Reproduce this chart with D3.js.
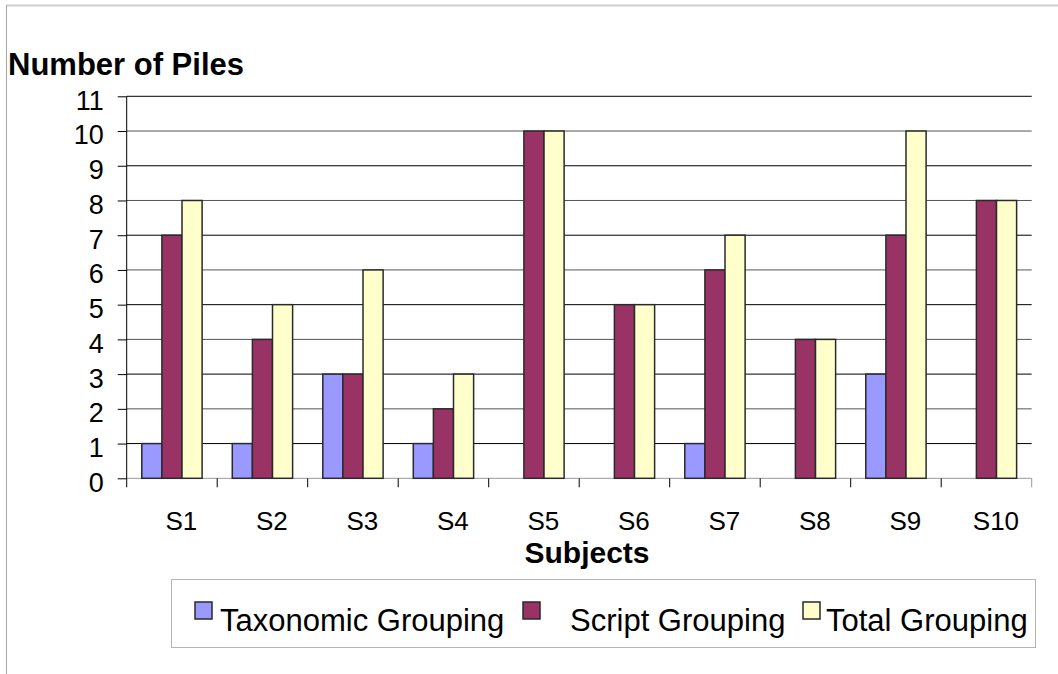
<!DOCTYPE html>
<html>
<head>
<meta charset="utf-8">
<script src="https://cdn.jsdelivr.net/npm/d3@7"></script>
<style>
  html, body { margin: 0; padding: 0; background: #fff; }
  svg { display: block; font-family: "Liberation Sans", Arial, Helvetica, sans-serif; }
</style>
</head>
<body>
<svg id="chart" width="1058" height="674"></svg>
<script>
// Piles sorted by each subject, per grouping type
const subjects = ["S1", "S2", "S3", "S4", "S5", "S6", "S7", "S8", "S9", "S10"];
const taxonomic = [1, 1, 3, 1, 0, 0, 1, 0, 3, 0];
const script = [7, 4, 3, 2, 10, 5, 6, 4, 7, 8];
const total = [8, 5, 6, 3, 10, 5, 7, 4, 10, 8];
const seriesNames = ["Taxonomic Grouping", "Script Grouping", "Total Grouping"];
const seriesColors = ["#9999FF", "#993366", "#FFFFCC"];
const yTicks = [0, 1, 2, 3, 4, 5, 6, 7, 8, 9, 10, 11];

const seriesValues = [taxonomic, script, total];
const rows = subjects.map((s, i) => ({
  subject: s,
  values: seriesNames.map((name, k) => ({ name, value: seriesValues[k][i], color: seriesColors[k] }))
}));

const svg = d3.select("#chart");

// outer frame edges
svg.append("line").attr("x1", 6).attr("x2", 1058).attr("y1", 5.5).attr("y2", 5.5)
  .attr("stroke", "#cfcfcf").attr("stroke-width", 2);
svg.append("line").attr("x1", 6.5).attr("x2", 6.5).attr("y1", 5).attr("y2", 674)
  .attr("stroke", "#a8a8a8").attr("stroke-width", 1);

const plot = { left: 126.7, right: 1031.7, top: 96.3, bottom: 478.3 };

const x = d3.scaleBand().domain(subjects).range([plot.left, plot.right]).padding(0);
const xs = d3.scaleBand().domain(seriesNames).range([0, x.bandwidth()])
  .paddingInner(0).paddingOuter(0.75);
const y = d3.scaleLinear().domain([0, 11]).range([plot.bottom, plot.top]);

// horizontal gridlines
svg.append("g").selectAll("line").data(yTicks).join("line")
  .attr("x1", plot.left).attr("x2", plot.right)
  .attr("y1", d => y(d)).attr("y2", d => y(d))
  .attr("stroke", d => d === 0 ? "#999" : (d % 2 === 0 ? "#555" : "#000")).attr("stroke-width", 1);

// y axis
const yAxis = svg.append("g").attr("transform", `translate(${plot.left},0)`)
  .call(d3.axisLeft(y).tickValues(yTicks).tickSize(9).tickPadding(14).tickFormat(d3.format("d")));
yAxis.select(".domain").remove();
yAxis.selectAll(".tick line").attr("stroke", "#000");
yAxis.selectAll(".tick text").attr("font-size", 27).attr("fill", "#000")
  .attr("font-family", "Liberation Sans, Arial, sans-serif").attr("dy", "0.48em");
svg.append("line").attr("x1", plot.left).attr("x2", plot.left)
  .attr("y1", plot.top).attr("y2", plot.bottom + 9).attr("stroke", "#000");

// x axis with category boundary ticks
const xAxis = svg.append("g").attr("transform", `translate(0,${plot.bottom})`);
xAxis.selectAll("line.cat").data(subjects.slice(1).concat(["end"])).join("line")
  .attr("class", "cat")
  .attr("x1", (d, i) => plot.left + (i + 1) * x.step())
  .attr("x2", (d, i) => plot.left + (i + 1) * x.step())
  .attr("y1", 0).attr("y2", 9).attr("stroke", (d, i) => i === 9 ? "#999" : "#000");
xAxis.selectAll("text").data(subjects).join("text")
  .attr("x", d => x(d) + x.bandwidth() / 2 + 9.5)
  .attr("y", 52)
  .attr("text-anchor", "middle").attr("font-size", 26).attr("fill", "#000")
  .text(d => d);

// bars
const groups = svg.append("g").selectAll("g").data(rows).join("g")
  .attr("transform", d => `translate(${x(d.subject)},0)`);
groups.selectAll("rect").data(d => d.values.filter(v => v.value > 0)).join("rect")
  .attr("x", d => xs(d.name))
  .attr("width", xs.bandwidth())
  .attr("y", d => y(d.value))
  .attr("height", d => y(0) - y(d.value))
  .attr("fill", d => d.color)
  .attr("stroke", "#2a2a2a").attr("stroke-width", 1.5);

// axis titles
svg.append("text").attr("x", 8).attr("y", 75)
  .attr("font-size", 31).attr("font-weight", "bold").attr("fill", "#000")
  .text("Number of Piles");
svg.append("text").attr("x", 587).attr("y", 563)
  .attr("text-anchor", "middle").attr("font-size", 30).attr("font-weight", "bold").attr("fill", "#000")
  .text("Subjects");

// legend
const legend = svg.append("g");
legend.append("rect").attr("x", 171.5).attr("y", 579.5).attr("width", 864).attr("height", 68)
  .attr("fill", "#fff").attr("stroke", "#b4b4b4").attr("stroke-width", 1);
const legendPos = [
  { sq: 195, tx: 220 },
  { sq: 523, tx: 570 },
  { sq: 803, tx: 826 }
];
const items = legend.selectAll("g.item").data(seriesNames).join("g").attr("class", "item");
items.append("rect")
  .attr("x", (d, i) => legendPos[i].sq).attr("y", 602)
  .attr("width", 17).attr("height", 17)
  .attr("fill", (d, i) => seriesColors[i]).attr("stroke", "#2a2a2a").attr("stroke-width", 1.5);
items.append("text")
  .attr("x", (d, i) => legendPos[i].tx).attr("y", 631)
  .attr("font-size", 31).attr("fill", "#000")
  .text(d => d);
</script>
</body>
</html>
